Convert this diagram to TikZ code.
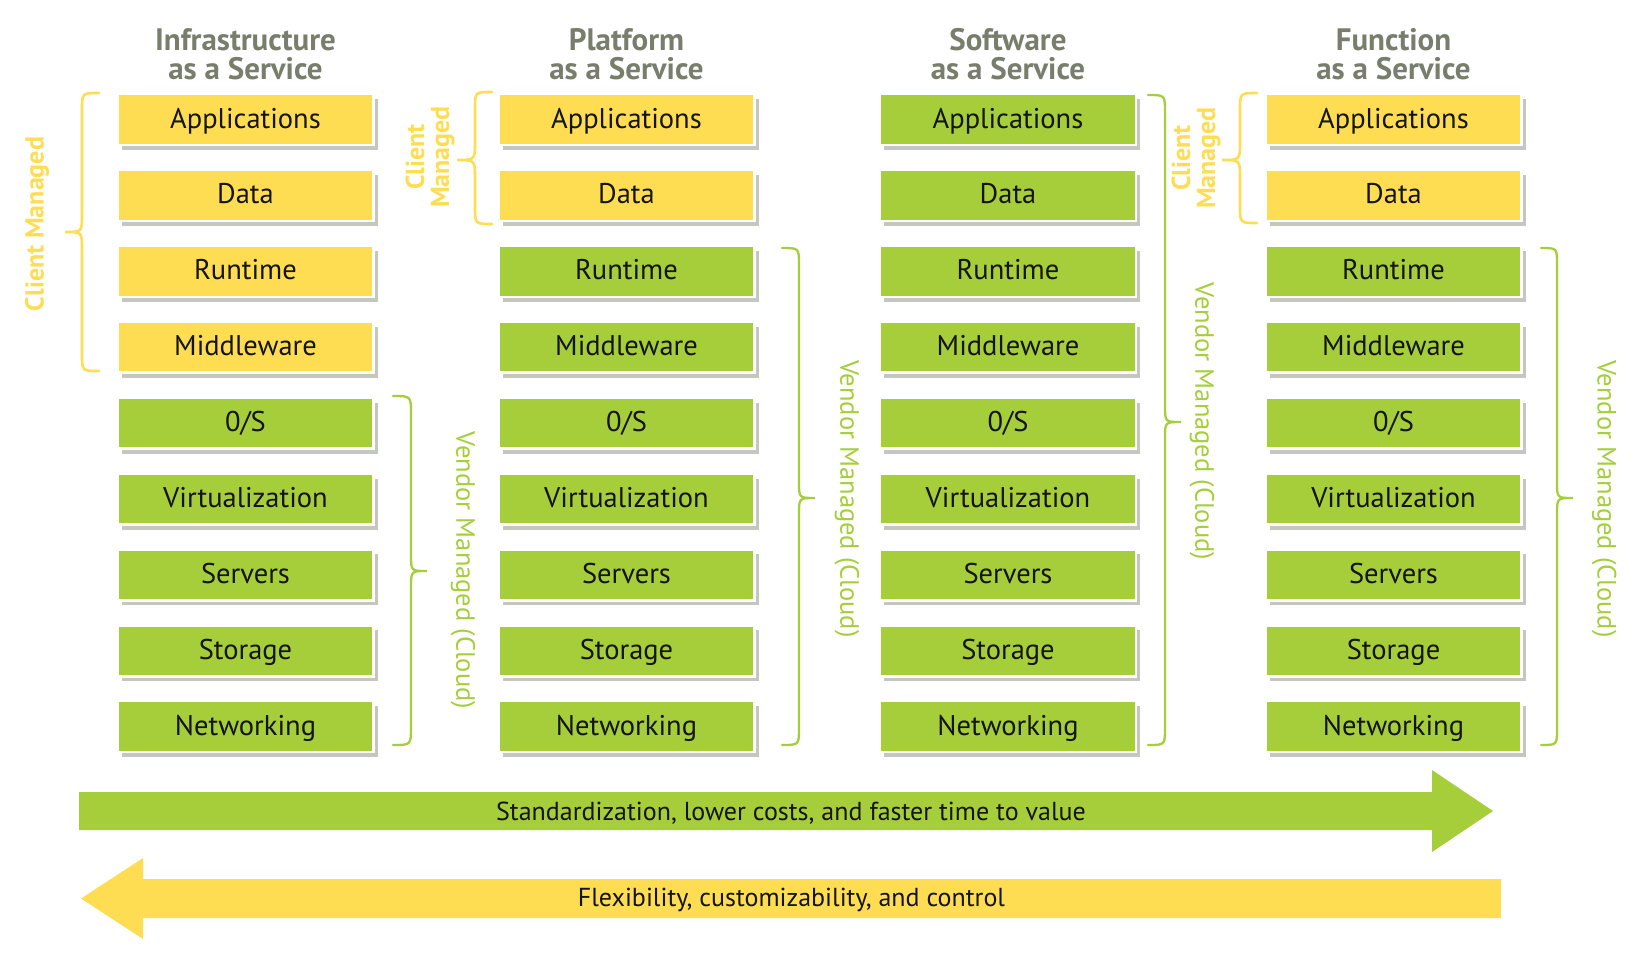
\documentclass[tikz,border=0pt]{standalone}
\usepackage{fontspec}
\setmainfont{PT Sans}
\usetikzlibrary{shadows}
\definecolor{bgreen}{RGB}{165,206,58}
\definecolor{byellow}{RGB}{255,221,82}
\definecolor{tgrey}{RGB}{121,125,108}
\definecolor{sgrey}{RGB}{196,199,191}
\definecolor{ink}{RGB}{20,20,20}
\newcommand\mybrace[7]{% style, tip x, line x, point x, y top, y bottom, y mid
  \draw[#1] (#2,#5) .. controls (#3,#5) .. (#3,{#5+abs(#2-#3)})
    -- (#3,{#7-abs(#4-#3)}) .. controls (#3,#7) .. (#4,#7)
    .. controls (#3,#7) .. (#3,{#7+abs(#4-#3)})
    -- (#3,{#6-abs(#2-#3)}) .. controls (#3,#6) .. (#2,#6);}
\begin{document}
\begin{tikzpicture}[x=1pt,y=-1pt,
  layer/.style={draw=white, line width=2.5pt, minimum width=256pt, minimum height=51pt,
    inner sep=0pt, text=ink, font=\fontsize{28.5}{30}\selectfont,
    text height=22pt, text depth=5pt,
    drop shadow={shadow xshift=4pt, shadow yshift=-5pt, fill=sgrey, opacity=1}},
  title/.style={text=tgrey, font=\bfseries\fontsize{31}{32}\selectfont, inner sep=0pt, anchor=base},
  ctext/.style={text=byellow, font=\bfseries\fontsize{26}{25}\selectfont, inner sep=0pt, align=center, rotate=90},
  vtext/.style={text=bgreen, font=\fontsize{26.5}{28}\selectfont, inner sep=0pt, rotate=-90},
  cbr/.style={draw=byellow, line width=2.6pt, line cap=round},
  vbr/.style={draw=bgreen, line width=2.3pt, line cap=round},
  atext/.style={text=ink, font=\fontsize{26}{28}\selectfont, inner sep=0pt, anchor=base}]
\useasboundingbox (0,0) rectangle (1641,967);

% titles
\node[title] (tI1) at (245.5,50) {Infrastructure};
\node[title] (tI2) at (245.5,79) {as a Service};
\node[title] (tP1) at (626.5,50) {Platform};
\node[title] (tP2) at (626.5,79) {as a Service};
\node[title] (tS1) at (1008,50) {Software};
\node[title] (tS2) at (1008,79) {as a Service};
\node[title] (tF1) at (1393.5,50) {Function};
\node[title] (tF2) at (1393.5,79) {as a Service};

% layer boxes
\foreach \cx/\nc/\cid in {245.5/4/i, 626.5/2/p, 1008/0/s, 1393.5/2/f}{
  \foreach \lab [count=\r from 0] in {Applications,Data,Runtime,Middleware,{0/S},Virtualization,Servers,Storage,Networking}{
    \ifnum\r<\nc\relax \colorlet{fc}{byellow}\else \colorlet{fc}{bgreen}\fi
    \node[layer, fill=fc] (\cid\r) at (\cx,{119.5+75.9*\r}) {\lab};
  }
}

% client managed braces and labels
\mybrace{cbr}{99}{82}{65}{93}{371}{232}
\node[ctext] (cI) at (37,224) {Client Managed};
\mybrace{cbr}{492}{475}{457}{92}{224}{160}
\node[ctext] (cP) at (430,157) {Client\\Managed};
\mybrace{cbr}{1257}{1240}{1222}{93}{223}{160}
\node[ctext] (cF) at (1196,158) {Client\\Managed};

% vendor managed braces and labels
\mybrace{vbr}{393}{411}{427}{396}{745}{571}
\node[vtext] (vI) at (463,570.5) {Vendor Managed (Cloud)};
\mybrace{vbr}{782}{799}{815}{248}{745}{498}
\node[vtext] (vP) at (847,499) {Vendor Managed (Cloud)};
\mybrace{vbr}{1148}{1165}{1181}{95}{745}{422}
\node[vtext] (vS) at (1202,421.5) {Vendor Managed (Cloud)};
\mybrace{vbr}{1541}{1557}{1573}{248}{745}{498}
\node[vtext] (vF) at (1604,499) {Vendor Managed (Cloud)};

% bottom arrows
\fill[bgreen] (79,792) -- (1432,792) -- (1432,770) -- (1493,811) -- (1432,852) -- (1432,830) -- (79,830) -- cycle;
\node[atext] (std) at (791,820) {Standardization, lower costs, and faster time to value};
\fill[byellow] (1501,879) -- (143,879) -- (143,858) -- (81,898.5) -- (143,939) -- (143,918) -- (1501,918) -- cycle;
\node[atext] (flex) at (791.5,906) {Flexibility, customizability, and control};
\end{tikzpicture}
\end{document}
